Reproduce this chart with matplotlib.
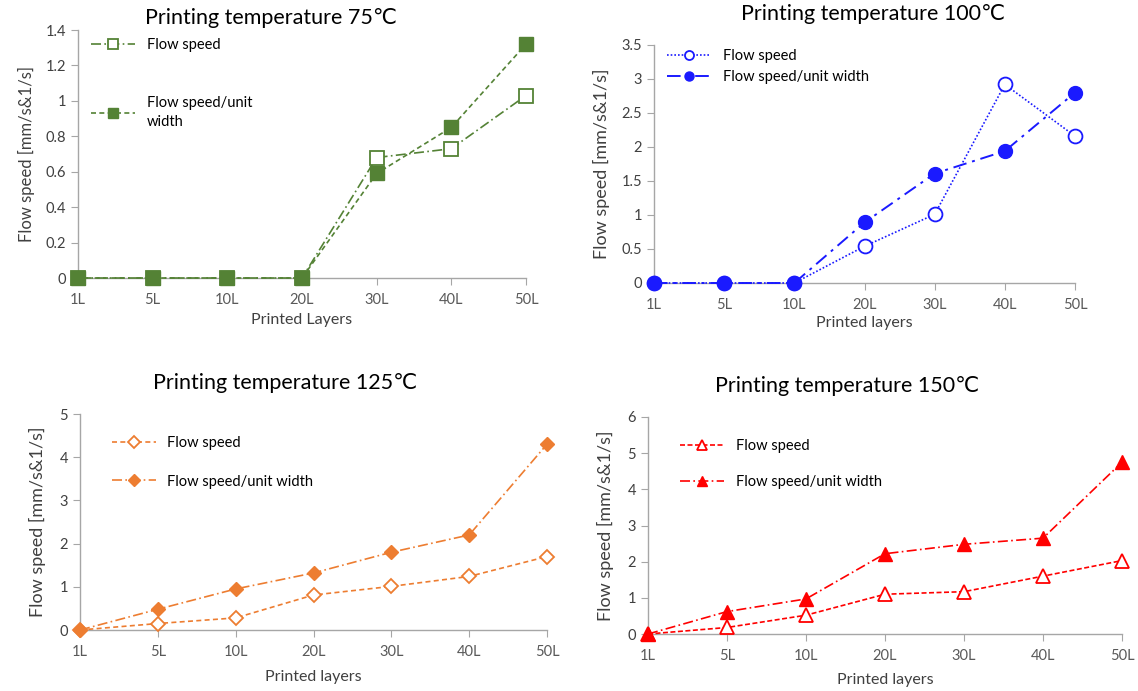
import matplotlib
matplotlib.use("Agg")
import matplotlib.pyplot as plt
import numpy as np

plt.rcParams['font.family'] = ['Lato', 'DejaVu Sans']

layers = ["1L", "5L", "10L", "20L", "30L", "40L", "50L"]

fs_75 = [0, 0, 0, 0, 0.68, 0.73, 1.03]
fsw_75 = [0, 0, 0, 0, 0.59, 0.85, 1.32]
fs_100 = [0, 0, 0, 0.54, 1.01, 2.92, 2.16]
fsw_100 = [0, 0, 0, 0.89, 1.61, 1.94, 2.80]
fs_125 = [0, 0.15, 0.28, 0.81, 1.01, 1.24, 1.70]
fsw_125 = [0, 0.48, 0.95, 1.32, 1.80, 2.20, 4.30]
fs_150 = [0, 0.18, 0.52, 1.10, 1.17, 1.60, 2.03]
fsw_150 = [0, 0.62, 0.97, 2.22, 2.48, 2.65, 4.75]

W, H = 1138, 691
fig = plt.figure(figsize=(W / 100, H / 100), dpi=100)


def px_axes(x0, x1, ytop, ybot):
    return fig.add_axes([x0 / W, 1 - ybot / H, (x1 - x0) / W, (ybot - ytop) / H])


def fmt_g(t):
    return ("%.1f" % t).rstrip("0").rstrip(".")


def style(ax, ymax, ystep):
    xs = list(range(len(layers)))
    ax.set_xlim(0, len(layers) - 1)
    ax.set_ylim(0, ymax)
    ax.set_xticks(xs)
    ax.set_xticklabels(layers)
    ticks = np.arange(0, ymax + 1e-9, ystep)
    ax.set_yticks(ticks)
    ax.set_yticklabels([fmt_g(t) for t in ticks])
    for s in ["top", "right"]:
        ax.spines[s].set_visible(False)
    for s in ["left", "bottom"]:
        ax.spines[s].set_color("#a6a6a6")
        ax.spines[s].set_linewidth(1.0)
    ax.tick_params(axis="both", colors="#a6a6a6", labelcolor="#404040",
                   labelsize=10.5, length=5, direction="out")
    ax.tick_params(axis="x", pad=6)
    for lab in ax.get_xticklabels():
        lab.set_color("#595959")


x = list(range(len(layers)))

# Panel 1: 75C
green = "#548235"
ax1 = px_axes(78, 526, 30, 278)
style(ax1, 1.4, 0.2)
ax1.plot(x, fs_75, linestyle=(0, (6, 2, 1, 2)), color=green, lw=1.2, marker="s",
         markersize=10, markerfacecolor="white", markeredgecolor=green, markeredgewidth=1.3,
         label="Flow speed", clip_on=False, zorder=3)
ax1.plot(x, fsw_75, linestyle=(0, (3, 2)), color=green, lw=1.2, marker="s",
         markersize=10, markerfacecolor=green, markeredgecolor=green,
         label="Flow speed/unit\nwidth", clip_on=False, zorder=3)
ax1.set_title("Printing temperature 75℃", fontsize=15.5, pad=4, x=0.43)
ax1.set_xlabel("Printed Layers", fontsize=11.5, color="#404040", labelpad=4)
ax1.set_ylabel("Flow speed [mm/s&1/s]", fontsize=12, color="#404040", labelpad=8)
leg1 = ax1.legend(loc="upper left", bbox_to_anchor=(0.0, 1.02), frameon=False, fontsize=10.5,
                  handlelength=3, labelspacing=3.0, markerscale=0.65)
for t in leg1.get_texts():
    t.set_linespacing(1.5)

# Panel 2: 100C
blue = "#1a1aff"
ax2 = px_axes(654, 1075, 45, 283)
style(ax2, 3.5, 0.5)
ax2.plot(x, fs_100, linestyle=(0, (1, 1.2)), color=blue, lw=1.2, marker="o",
         markersize=10, markerfacecolor="white", markeredgecolor=blue, markeredgewidth=1.3,
         label="Flow speed", clip_on=False, zorder=3)
ax2.plot(x, fsw_100, linestyle=(0, (7, 3, 1.5, 3)), color=blue, lw=1.4, marker="o",
         markersize=10, markerfacecolor=blue, markeredgecolor=blue,
         label="Flow speed/unit width", clip_on=False, zorder=3)
ax2.set_title("Printing temperature 100℃", fontsize=15.5, pad=18, x=0.52)
ax2.set_xlabel("Printed layers", fontsize=11.5, color="#404040", labelpad=3)
ax2.set_ylabel("Flow speed [mm/s&1/s]", fontsize=13, color="#404040", labelpad=8)
ax2.legend(loc="upper left", bbox_to_anchor=(0.0, 1.04), frameon=False, fontsize=10.5,
           handlelength=3, labelspacing=0.5, markerscale=0.65)

# Panel 3: 125C
orange = "#ed7d31"
ax3 = px_axes(80, 547, 414, 630)
style(ax3, 5, 1)
ax3.plot(x, fs_125, linestyle=(0, (3, 2)), color=orange, lw=1.2, marker="D",
         markersize=7, markerfacecolor="white", markeredgecolor=orange, markeredgewidth=1.3,
         label="Flow speed", clip_on=False, zorder=3)
ax3.plot(x, fsw_125, linestyle=(0, (6, 2, 1, 2)), color=orange, lw=1.2, marker="D",
         markersize=7, markerfacecolor=orange, markeredgecolor=orange,
         label="Flow speed/unit width", clip_on=False, zorder=3)
ax3.set_title("Printing temperature 125℃", fontsize=15.5, pad=18, x=0.44)
ax3.set_xlabel("Printed layers", fontsize=11.5, color="#404040", labelpad=8)
ax3.set_ylabel("Flow speed [mm/s&1/s]", fontsize=13, color="#404040", labelpad=10)
ax3.legend(loc="upper left", bbox_to_anchor=(0.04, 0.96), frameon=False, fontsize=10.5,
           handlelength=3, labelspacing=1.7, markerscale=0.85)

# Panel 4: 150C
red = "#ff0000"
ax4 = px_axes(648, 1122, 417, 634)
style(ax4, 6, 1)
ax4.plot(x, fs_150, linestyle=(0, (3, 1.5)), color=red, lw=1.2, marker="^",
         markersize=10, markerfacecolor="white", markeredgecolor=red, markeredgewidth=1.3,
         label="Flow speed", clip_on=False, zorder=3)
ax4.plot(x, fsw_150, linestyle=(0, (6, 2, 1, 2)), color=red, lw=1.2, marker="^",
         markersize=10, markerfacecolor=red, markeredgecolor=red,
         label="Flow speed/unit width", clip_on=False, zorder=3)
ax4.set_title("Printing temperature 150℃", fontsize=15.5, pad=18, x=0.42)
ax4.set_xlabel("Printed layers", fontsize=11.5, color="#404040", labelpad=7)
ax4.set_ylabel("Flow speed [mm/s&1/s]", fontsize=13, color="#404040", labelpad=10)
ax4.legend(loc="upper left", bbox_to_anchor=(0.04, 0.96), frameon=False, fontsize=10.5,
           handlelength=3, labelspacing=1.5, markerscale=0.65)

fig.savefig("out.png", dpi=100)
